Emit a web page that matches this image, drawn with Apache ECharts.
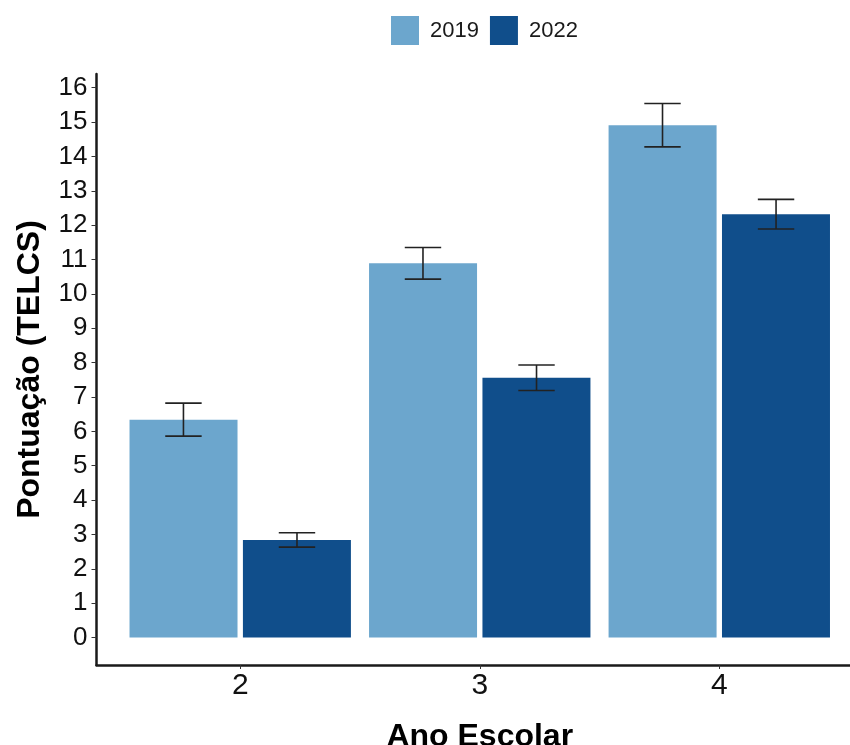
<!DOCTYPE html>
<html>
<head>
<meta charset="utf-8">
<script src="https://cdn.jsdelivr.net/npm/echarts@6/dist/echarts.min.js"></script>
<style>
  html, body { margin: 0; padding: 0; background: #fff; }
  #chart { width: 850px; height: 745px; }
</style>
</head>
<body>
<div id="chart"></div>
<script>
// School year groups and TELCS score means with their error margins
const categories = ['2', '3', '4'];
const seriesNames = ['2019', '2022'];
const mean2019 = [6.34, 10.89, 14.91];
const err2019 = [0.48, 0.46, 0.63];
const mean2022 = [2.84, 7.56, 12.32];
const err2022 = [0.21, 0.37, 0.43];
const yTicks = [0, 1, 2, 3, 4, 5, 6, 7, 8, 9, 10, 11, 12, 13, 14, 15, 16];

const FONT = '"Liberation Sans", Arial, Helvetica, sans-serif';
const colors = ['#6CA6CD', '#104E8B'];
const DODGE = 0.237;      // half distance between the two bars of a group, in axis units
const CAP_HALF = 0.076;   // half width of an error-bar cap, in axis units

const pos = categories.map((c, i) => i + 1);

function barData(means) {
  return means.map((m, i) => [pos[i], m]);
}
function errData(means, errs) {
  return means.map((m, i) => [pos[i], m, errs[i]]);
}

function errorBarRenderer(shift) {
  return function (params, api) {
    const x = api.value(0) + shift;
    const m = api.value(1);
    const e = api.value(2);
    const top = api.coord([x, m + e]);
    const bot = api.coord([x, m - e]);
    const half = api.size([CAP_HALF, 0])[0];
    const style = { stroke: '#222', lineWidth: 1.6 };
    return {
      type: 'group',
      children: [
        { type: 'line', shape: { x1: top[0], y1: top[1], x2: bot[0], y2: bot[1] }, style },
        { type: 'line', shape: { x1: top[0] - half, y1: top[1], x2: top[0] + half, y2: top[1] }, style },
        { type: 'line', shape: { x1: bot[0] - half, y1: bot[1], x2: bot[0] + half, y2: bot[1] }, style }
      ]
    };
  };
}

const chart = echarts.init(document.getElementById('chart'), null, { renderer: 'canvas' });

chart.setOption({
  animation: false,
  backgroundColor: '#ffffff',
  textStyle: { fontFamily: FONT },
  legend: {
    data: seriesNames,
    top: 16,
    left: 391,
    padding: 0,
    itemWidth: 28,
    itemHeight: 29,
    itemGap: 11,
    icon: 'rect',
    textStyle: { fontFamily: FONT, fontSize: 22, color: '#1a1a1a', padding: [0, 0, 0, 6] }
  },
  grid: {
    left: 96.5,
    top: 74,
    width: 766.5,
    bottom: 80,
    containLabel: false,
    outerBoundsMode: 'none'
  },
  xAxis: {
    type: 'value',
    min: 0.4,
    max: 3.6,
    name: 'Ano Escolar',
    nameLocation: 'middle',
    nameGap: 56,
    nameTextStyle: { fontFamily: FONT, fontSize: 32, fontWeight: 'bold', color: '#000' },
    axisLine: { show: true, onZero: false, lineStyle: { color: '#1a1a1a', width: 2.5 } },
    axisTick: { show: true, length: 4, customValues: pos, lineStyle: { color: '#333', width: 1 } },
    axisLabel: {
      show: true,
      customValues: pos,
      margin: 6,
      fontFamily: FONT,
      fontSize: 30,
      color: '#111',
      formatter: v => categories[Math.round(v) - 1]
    },
    splitLine: { show: false }
  },
  yAxis: {
    type: 'value',
    min: -0.8,
    max: 16.4,
    name: 'Pontuação (TELCS)',
    nameLocation: 'middle',
    nameGap: 50,
    nameTextStyle: { fontFamily: FONT, fontSize: 32, fontWeight: 'bold', color: '#000' },
    axisLine: { show: true, onZero: false, lineStyle: { color: '#1a1a1a', width: 2.5 } },
    axisTick: { show: true, length: 5, customValues: yTicks, lineStyle: { color: '#333', width: 1 } },
    axisLabel: {
      show: true,
      customValues: yTicks,
      margin: 9,
      fontFamily: FONT,
      fontSize: 26,
      color: '#111'
    },
    splitLine: { show: false }
  },
  series: [
    {
      name: seriesNames[0],
      type: 'bar',
      data: barData(mean2019),
      barWidth: 108,
      barGap: '5%',
      itemStyle: { color: colors[0] }
    },
    {
      name: seriesNames[1],
      type: 'bar',
      data: barData(mean2022),
      barWidth: 108,
      barGap: '5%',
      itemStyle: { color: colors[1] }
    },
    {
      name: 'err2019',
      type: 'custom',
      data: errData(mean2019, err2019),
      encode: { x: 0, y: [1, 2] },
      renderItem: errorBarRenderer(-DODGE),
      z: 10
    },
    {
      name: 'err2022',
      type: 'custom',
      data: errData(mean2022, err2022),
      encode: { x: 0, y: [1, 2] },
      renderItem: errorBarRenderer(DODGE),
      z: 10
    }
  ]
});
</script>
</body>
</html>
